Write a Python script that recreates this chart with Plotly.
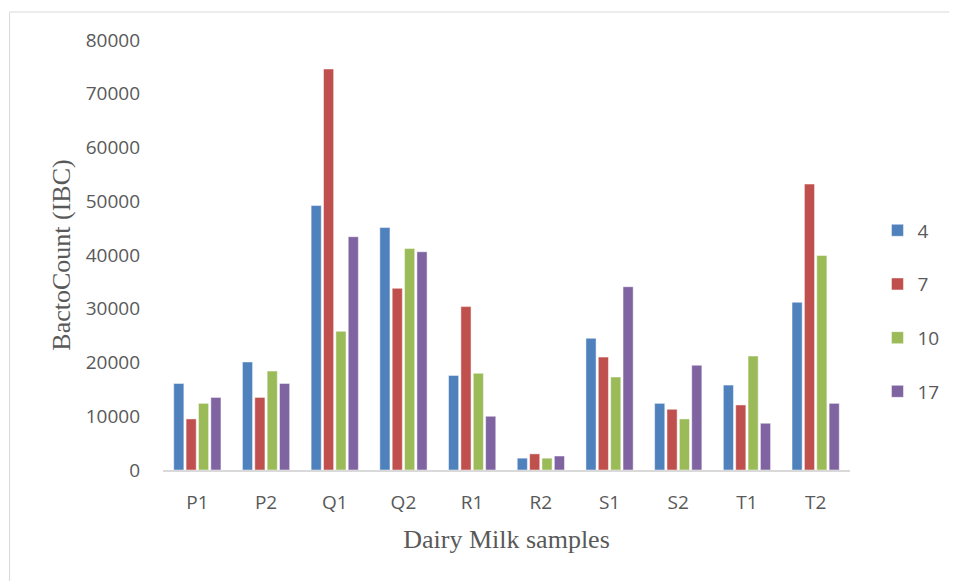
import plotly.graph_objects as go

categories = ["P1", "P2", "Q1", "Q2", "R1", "R2", "S1", "S2", "T1", "T2"]
series_names = ["4", "7", "10", "17"]
s4 = [16100, 20100, 49200, 45100, 17600, 2200, 24500, 12400, 15800, 31200]
s7 = [9500, 13500, 74600, 33800, 30400, 3000, 21000, 11300, 12100, 53200]
s10 = [12400, 18400, 25800, 41200, 18000, 2200, 17300, 9500, 21200, 39900]
s17 = [13500, 16100, 43400, 40600, 10000, 2600, 34100, 19500, 8700, 12400]
y_ticks = [0, 10000, 20000, 30000, 40000, 50000, 60000, 70000, 80000]

colors = ["#4F81BD", "#C0504D", "#9BBB59", "#8064A2"]

fig = go.Figure()
for i, (name, vals) in enumerate(zip(series_names, [s4, s7, s10, s17])):
    fig.add_trace(go.Bar(
        x=categories, y=vals, name=name, legendgroup=name,
        marker=dict(color=colors[i], line=dict(color="rgba(255,255,255,0.6)", width=0.8)),
    ))

# page has an 8px body margin, so the figure is 949x573
W, H = 949, 573
L, R, T, B = 155, 100, 32, 111
pw, ph = W - L - R, H - T - B

serif = "Liberation Serif, Times New Roman, serif"
fig.update_layout(
    width=W, height=H,
    margin=dict(l=L, r=R, t=T, b=B),
    paper_bgcolor="white", plot_bgcolor="white",
    barmode="group", bargap=0.28, bargroupgap=0.18,
    font=dict(family="Open Sans, Liberation Sans, sans-serif", color="#595959", size=19),
    legend=dict(x=1.04, y=0.37, xanchor="left", yanchor="middle",
                font=dict(size=19, color="#595959"), tracegroupgap=26,
                itemwidth=30),
    xaxis=dict(
        showline=True, linecolor="#D9D9D9", linewidth=1.5,
        ticks="outside", ticklen=14, tickcolor="rgba(0,0,0,0)", tickfont=dict(size=19),
        title=dict(text="Dairy Milk samples",
                   font=dict(family=serif, size=26, color="#595959"),
                   standoff=16),
    ),
    yaxis=dict(
        range=[0, 80000], tickvals=y_ticks, ticktext=[str(v) for v in y_ticks],
        showgrid=False, zeroline=False, showline=False, ticks="",
        tickfont=dict(size=19), ticklabelstandoff=22,
        title=dict(text="BactoCount (IBC)",
                   font=dict(family=serif, size=26, color="#595959"),
                   standoff=7),
    ),
    shapes=[dict(type="rect", xref="paper", yref="paper",
                 x0=(0 - L) / pw, x1=(W + 20 - L) / pw,
                 y0=-(H + 20 - T - ph) / ph, y1=(ph + T - 4) / ph,
                 line=dict(color="#D9D9D9", width=1), layer="below")],
)

fig.write_html("out.html")
